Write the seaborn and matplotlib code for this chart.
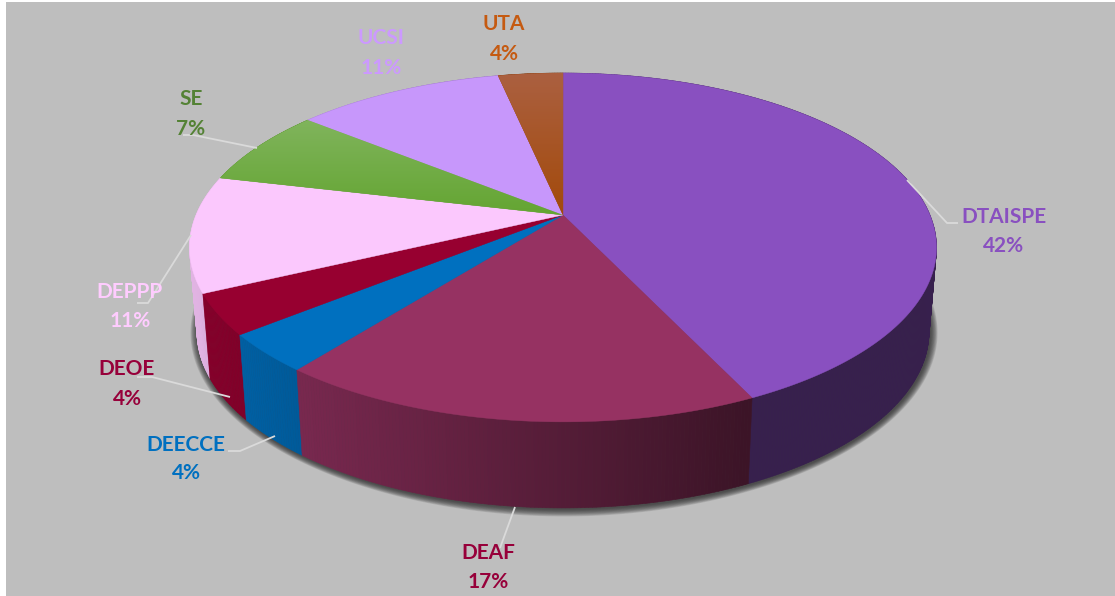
import numpy as np
import matplotlib
matplotlib.use("Agg")
import matplotlib.pyplot as plt
from matplotlib.patches import Polygon
import seaborn as sns

# ---- data ----
categories = ["DTAISPE", "DEAF", "DEECCE", "DEOE", "DEPPP", "SE", "UCSI", "UTA"]
shares = [42.95, 17.68, 3.55, 3.75, 10.75, 7.16, 10.81, 3.35]
percent_labels = ["42%", "17%", "4%", "4%", "11%", "7%", "11%", "4%"]

# ---- style ----
slice_colors = ["#8950C0", "#963262", "#0070BF", "#970030", "#FBC8FD", "#6BA83C", "#C797FB", "#A54F1C"]
text_colors = ["#8950C0", "#97003A", "#0070C0", "#97003A", "#FFCCFF", "#548235", "#CC99FF", "#C55A11"]
gradients = {"SE": ("#80B45C", "#64A532"), "UTA": ("#AB6040", "#A34A0B")}
BG = "#BEBEBE"
LEADER = "#DADADA"

sns.set_theme(style="white")
plt.rcParams["font.family"] = ["Lato", "DejaVu Sans"]
palette = sns.color_palette(slice_colors)

W, H = 1115, 596
fig = plt.figure(figsize=(W / 100, H / 100), dpi=100, facecolor="white")
ax = fig.add_axes([6 / W, 0, (W - 6) / W, (H - 2) / H])

wedges, _ = ax.pie(shares, startangle=90, counterclock=False, colors=palette)
thetas = [(w.theta1, w.theta2) for w in wedges]
for w in wedges:
    w.remove()

ax.set_aspect("auto")
ax.set_xlim(6, W)
ax.set_ylim(H, 2)
ax.set_frame_on(True)
ax.set_facecolor(BG)
for s in ax.spines.values():
    s.set_visible(False)

# perspective view of the disc
CX, CY, A, B, K = 563.0, 215.0, 367.0, 168.4, 0.186
DEPTH, SX, SY = 84.0, 0.98, 1.01


def top(t):
    t = np.radians(t)
    x, y = np.cos(t), np.sin(t)
    w = 1 + K * y
    return CX + A * x / w, CY - B * y / w


def lower(px, py):
    return CX + SX * (px - CX), CY + SY * (py - CY) + DEPTH


def arc(t1, t2):
    n = max(int(abs(t2 - t1) * 2), 2)
    return np.linspace(t1, t2, n + 1)


def shade(x):
    return float(np.clip(0.8 - 0.4 * (x - 300) / 445, 0.4, 0.9))


# soft shadow under the disc
ring = np.linspace(0, 360, 361)
rx, ry = lower(*top(ring))
for grow in np.arange(7.5, 0, -0.75):
    dx = rx - CX
    dy = ry - (CY + DEPTH + 32)
    r = np.hypot(dx, dy)
    ax.add_patch(Polygon(np.c_[CX + 1 + dx * (1 + grow / r), CY + DEPTH + 33 + dy * (1 + grow / r)],
                         closed=True, fc="#2a2a2a", ec="none", alpha=0.13, zorder=1))

# outer wall, painted back to front
quads = []
for (t1, t2), col in zip(thetas, palette):
    ts = arc(t1, t2)
    for a, b in zip(ts[:-1], ts[1:]):
        xa, ya = top(a)
        xb, yb = top(b)
        xc, yc = lower(xb, yb)
        xd, yd = lower(xa, ya)
        f = shade((xa + xb) / 2)
        c = tuple(np.array(col) * f)
        quads.append(((ya + yb) / 2, [(xa, ya), (xb, yb), (xc, yc), (xd, yd)], c))
quads.sort(key=lambda q: q[0])
for _, pts, c in quads:
    ax.add_patch(Polygon(pts, closed=True, fc=c, ec=c, lw=0.4, zorder=2))

# top face
for name, (t1, t2), col in zip(categories, thetas, palette):
    xs, ys = top(arc(t1, t2))
    pts = np.vstack([[CX, CY], np.c_[xs, ys]])
    patch = Polygon(pts, closed=True, fc=col, ec=col, lw=0.3, zorder=3)
    ax.add_patch(patch)
    if name in gradients:
        c0, c1 = map(np.array, (matplotlib.colors.to_rgb(gradients[name][0]),
                                matplotlib.colors.to_rgb(gradients[name][1])))
        grad = np.linspace(0, 1, 64)[:, None, None] * (c1 - c0) + c0
        im = ax.imshow(grad, extent=(pts[:, 0].min(), pts[:, 0].max(), pts[:, 1].max(), pts[:, 1].min()),
                       aspect="auto", origin="upper", zorder=3.1, interpolation="bilinear")
        im.set_clip_path(patch)

ax.set_xlim(6, W)
ax.set_ylim(H, 2)

# labels and leaders
label_xy = {"DTAISPE": (1004, 217, 246), "DEAF": (488, 553, 582), "DEECCE": (186, 445, 473),
            "DEOE": (127, 369, 399), "DEPPP": (130, 292, 321), "SE": (191, 99, 129),
            "UCSI": (381, 38, 68), "UTA": (504, 24, 54)}
leaders = {"DTAISPE": [(907, 180), (947, 223), (958, 223)],
           "DEAF": [(515, 507), (500, 548)],
           "DEECCE": [(275, 436), (240, 451), (228, 451)],
           "DEOE": [(230, 397), (152, 377), (137, 377)],
           "DEPPP": [(191, 235), (148, 303), (137, 303)],
           "SE": [(257, 148), (193, 135), (183, 135)]}
for pts in leaders.values():
    arr = np.array(pts)
    ax.plot(arr[:, 0], arr[:, 1], color=LEADER, lw=1.3, zorder=4, solid_capstyle="butt")

for name, pct, col in zip(categories, percent_labels, text_colors):
    x, y1, y2 = label_xy[name]
    ax.text(x, y1, name, color=col, fontsize=15, fontweight="bold", ha="center", va="center", zorder=5)
    ax.text(x, y2, pct, color=col, fontsize=15, fontweight="bold", ha="center", va="center", zorder=5)

fig.savefig("out.png", dpi=100, facecolor="white")
